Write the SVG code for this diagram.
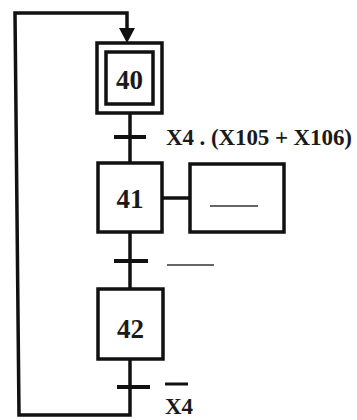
<svg xmlns="http://www.w3.org/2000/svg" width="357" height="420" viewBox="0 0 357 420">
<style>
.box{fill:#fff;stroke:#111;stroke-width:3.5}
.ln{fill:none;stroke:#111;stroke-width:3.5}
.bar{stroke:#111;stroke-width:4}
.num{font-family:"Liberation Serif",serif;font-weight:bold;font-size:27px;fill:#1a1a1a;text-anchor:middle}
.lbl{font-family:"Liberation Serif",serif;font-weight:bold;font-size:23px;fill:#1a1a1a}
.dash{stroke:#666;stroke-width:2.2}
</style>
<rect width="357" height="420" fill="#fff"/>
<g id="connectors">
<path class="ln" d="M130,359 V415 H19 L15,13 H127 V30"/>
<path d="M119,28 L135,28 L127,43 Z" fill="#111"/>
<line class="ln" x1="130" y1="113" x2="130" y2="163"/>
<line class="ln" x1="130" y1="232" x2="130" y2="289"/>
<line class="ln" x1="162" y1="198" x2="190" y2="198"/>
<line class="bar" x1="114" y1="137" x2="146" y2="137"/>
<line class="bar" x1="114" y1="261" x2="148" y2="261"/>
<line class="bar" x1="117" y1="387" x2="150" y2="387"/>
</g>
<g id="step40">
<rect class="box" x="97" y="43" width="65" height="70"/>
<rect class="box" x="106" y="52" width="47" height="52"/>
<text class="num" x="129.5" y="89">40</text>
</g>
<g id="step41">
<rect class="box" x="98" y="163" width="64" height="69"/>
<text class="num" x="130" y="208">41</text>
</g>
<g id="action41">
<rect class="box" x="190" y="164" width="94" height="68"/>
<line class="dash" x1="210" y1="206" x2="258" y2="206"/>
</g>
<g id="step42">
<rect class="box" x="98" y="289" width="65" height="70"/>
<text class="num" x="130.5" y="338">42</text>
</g>
<g id="transition1">
<text class="lbl" x="166" y="145" textLength="186" lengthAdjust="spacing">X4 . (X105 + X106)</text>
</g>
<g id="transition2">
<line class="dash" x1="167" y1="265" x2="214" y2="265"/>
</g>
<g id="transition3">
<line stroke="#111" stroke-width="3" x1="165" y1="384" x2="188" y2="384"/>
<text class="lbl" x="165" y="414">X4</text>
</g>
</svg>
